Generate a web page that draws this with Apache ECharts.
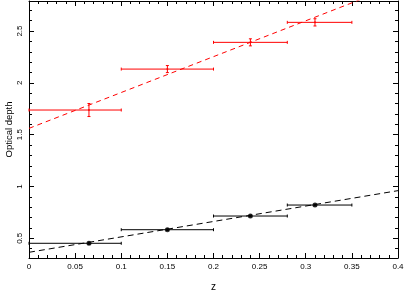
<!DOCTYPE html>
<html><head><meta charset="utf-8">
<script src="https://cdn.jsdelivr.net/npm/echarts@6/dist/echarts.min.js"></script>
<style>html,body{margin:0;padding:0;background:#fff}#c{width:405px;height:291px}</style>
</head><body><div id="c"></div>
<script>
// Data
const redX    = [0.065, 0.15, 0.24, 0.31];
const redY    = [1.738, 2.133, 2.391, 2.584];
const redXlo  = [0.0, 0.1, 0.2, 0.28];
const redXhi  = [0.1, 0.2, 0.28, 0.35];
const redYerr = [0.063, 0.034, 0.034, 0.035];
const blackX    = [0.065, 0.15, 0.24, 0.31];
const blackY    = [0.452, 0.583, 0.715, 0.821];
const blackXlo  = [0.0, 0.1, 0.2, 0.28];
const blackXhi  = [0.1, 0.2, 0.28, 0.35];
const blackYerr = [0.01, 0.008, 0.008, 0.008];
const redFit   = [[0, 1.561], [0.4, 2.945]];
const blackFit = [[0, 0.365], [0.4, 0.96]];
const yMajor = [0.5, 1, 1.5, 2, 2.5];
const yMajorLabels = ['0.5', '1', '1.5', '2', '2.5'];
const yMinor = [0.4,0.5,0.6,0.7,0.8,0.9,1.0,1.1,1.2,1.3,1.4,1.5,1.6,1.7,1.8,1.9,2.0,2.1,2.2,2.3,2.4,2.5,2.6,2.7];
const xTickLabels = ['0','0.05','0.1','0.15','0.2','0.25','0.3','0.35','0.4'];

const FONT = 'Liberation Sans';
const chart = echarts.init(document.getElementById('c'));

function errData(xs, ys, xlo, xhi, yerr) {
  return xs.map((x, i) => [x, ys[i], xlo[i], xhi[i], ys[i] - yerr[i], ys[i] + yerr[i]]);
}
function errSeries(data, color) {
  return {
    type: 'custom', xAxisIndex: 0, yAxisIndex: 0, data: data, z: 3,
    itemStyle: { color: color },
    renderItem: function (params, api) {
      const x = api.value(0), y = api.value(1);
      const pL = api.coord([api.value(2), y]);
      const pR = api.coord([api.value(3), y]);
      const pB = api.coord([x, api.value(4)]);
      const pT = api.coord([x, api.value(5)]);
      const c = 1.5;
      const seg = (x1, y1, x2, y2) => ({ type: 'line', shape: { x1, y1, x2, y2 },
        style: { stroke: color, lineWidth: 1, fill: null } });
      return {
        type: 'group',
        children: [
          seg(pL[0], pL[1], pR[0], pR[1]),
          seg(pL[0], pL[1] - c, pL[0], pL[1] + c),
          seg(pR[0], pR[1] - c, pR[0], pR[1] + c),
          seg(pB[0], pB[1], pT[0], pT[1]),
          seg(pB[0] - c, pB[1], pB[0] + c, pB[1]),
          seg(pT[0] - c, pT[1], pT[0] + c, pT[1])
        ]
      };
    }
  };
}

const lineStyleAxis = { color: '#000', width: 1 };
const YMIN = 0.31, YMAX = 2.79;

const option = {
  animation: false,
  backgroundColor: '#fff',
  grid: { left: 29, right: 7, top: 1, bottom: 33, containLabel: false, outerBoundsMode: 'none' },
  xAxis: [
    { type: 'value', min: 0, max: 0.4, interval: 0.05, position: 'bottom',
      name: 'z', nameLocation: 'middle', nameGap: 24, nameMoveOverlap: false,
      nameTextStyle: { fontFamily: FONT, fontSize: 10, color: '#000' },
      axisLine: { show: true, lineStyle: lineStyleAxis },
      axisTick: { show: true, inside: true, length: 5, lineStyle: lineStyleAxis },
      minorTick: { show: true, splitNumber: 5, length: 3, lineStyle: lineStyleAxis },
      splitLine: { show: false }, minorSplitLine: { show: false },
      axisLabel: { fontFamily: FONT, fontSize: 8, color: '#000', margin: 5, hideOverlap: false,
        formatter: (v) => { const i = Math.round(v / 0.05); return xTickLabels[i] !== undefined ? xTickLabels[i] : ''; } } },
    { type: 'value', min: 0, max: 0.4, interval: 0.05, position: 'top',
      axisLine: { show: true, lineStyle: lineStyleAxis },
      axisTick: { show: true, inside: true, length: 5, lineStyle: lineStyleAxis },
      minorTick: { show: true, splitNumber: 5, length: 3, lineStyle: lineStyleAxis },
      splitLine: { show: false }, axisLabel: { show: false } }
  ],
  yAxis: [
    { type: 'value', min: YMIN, max: YMAX, position: 'left',
      name: 'Optical depth', nameLocation: 'middle', nameGap: 15, nameRotate: 90, nameMoveOverlap: false,
      nameTextStyle: { fontFamily: FONT, fontSize: 9.5, color: '#000' },
      axisLine: { show: true, lineStyle: lineStyleAxis },
      axisTick: { show: true, inside: true, length: 5, customValues: yMajor, lineStyle: lineStyleAxis },
      splitLine: { show: false },
      axisLabel: { show: true, customValues: yMajor, rotate: 90, fontFamily: FONT, fontSize: 8, color: '#000', margin: 5,
        formatter: (v) => { const i = yMajor.findIndex(m => Math.abs(m - v) < 1e-6); return i >= 0 ? yMajorLabels[i] : ''; } } },
    { type: 'value', min: YMIN, max: YMAX, position: 'left',
      axisLine: { show: false },
      axisTick: { show: true, inside: true, length: 3, customValues: yMinor, lineStyle: lineStyleAxis },
      splitLine: { show: false }, axisLabel: { show: false } },
    { type: 'value', min: YMIN, max: YMAX, position: 'right',
      axisLine: { show: true, lineStyle: lineStyleAxis },
      axisTick: { show: true, inside: true, length: 5, customValues: yMajor, lineStyle: lineStyleAxis },
      splitLine: { show: false }, axisLabel: { show: false } },
    { type: 'value', min: YMIN, max: YMAX, position: 'right',
      axisLine: { show: false },
      axisTick: { show: true, inside: true, length: 3, customValues: yMinor, lineStyle: lineStyleAxis },
      splitLine: { show: false }, axisLabel: { show: false } }
  ],
  series: [
    { type: 'line', data: redFit, xAxisIndex: 0, yAxisIndex: 0, clip: true, symbol: 'none',
      lineStyle: { color: '#ff0000', width: 1, type: [5, 4] }, z: 2 },
    { type: 'line', data: blackFit, xAxisIndex: 0, yAxisIndex: 0, clip: true, symbol: 'none',
      lineStyle: { color: '#000', width: 1, type: [6, 4] }, z: 2 },
    errSeries(errData(redX, redY, redXlo, redXhi, redYerr), '#ff0000'),
    errSeries(errData(blackX, blackY, blackXlo, blackXhi, blackYerr), '#000'),
    { type: 'scatter', data: redX.map((x, i) => [x, redY[i]]), symbol: 'circle', symbolSize: 2,
      itemStyle: { color: '#ff0000' }, z: 4 },
    { type: 'scatter', data: blackX.map((x, i) => [x, blackY[i]]), symbol: 'circle', symbolSize: 5,
      itemStyle: { color: '#000' }, z: 4 }
  ]
};
chart.setOption(option);
</script>
</body></html>
